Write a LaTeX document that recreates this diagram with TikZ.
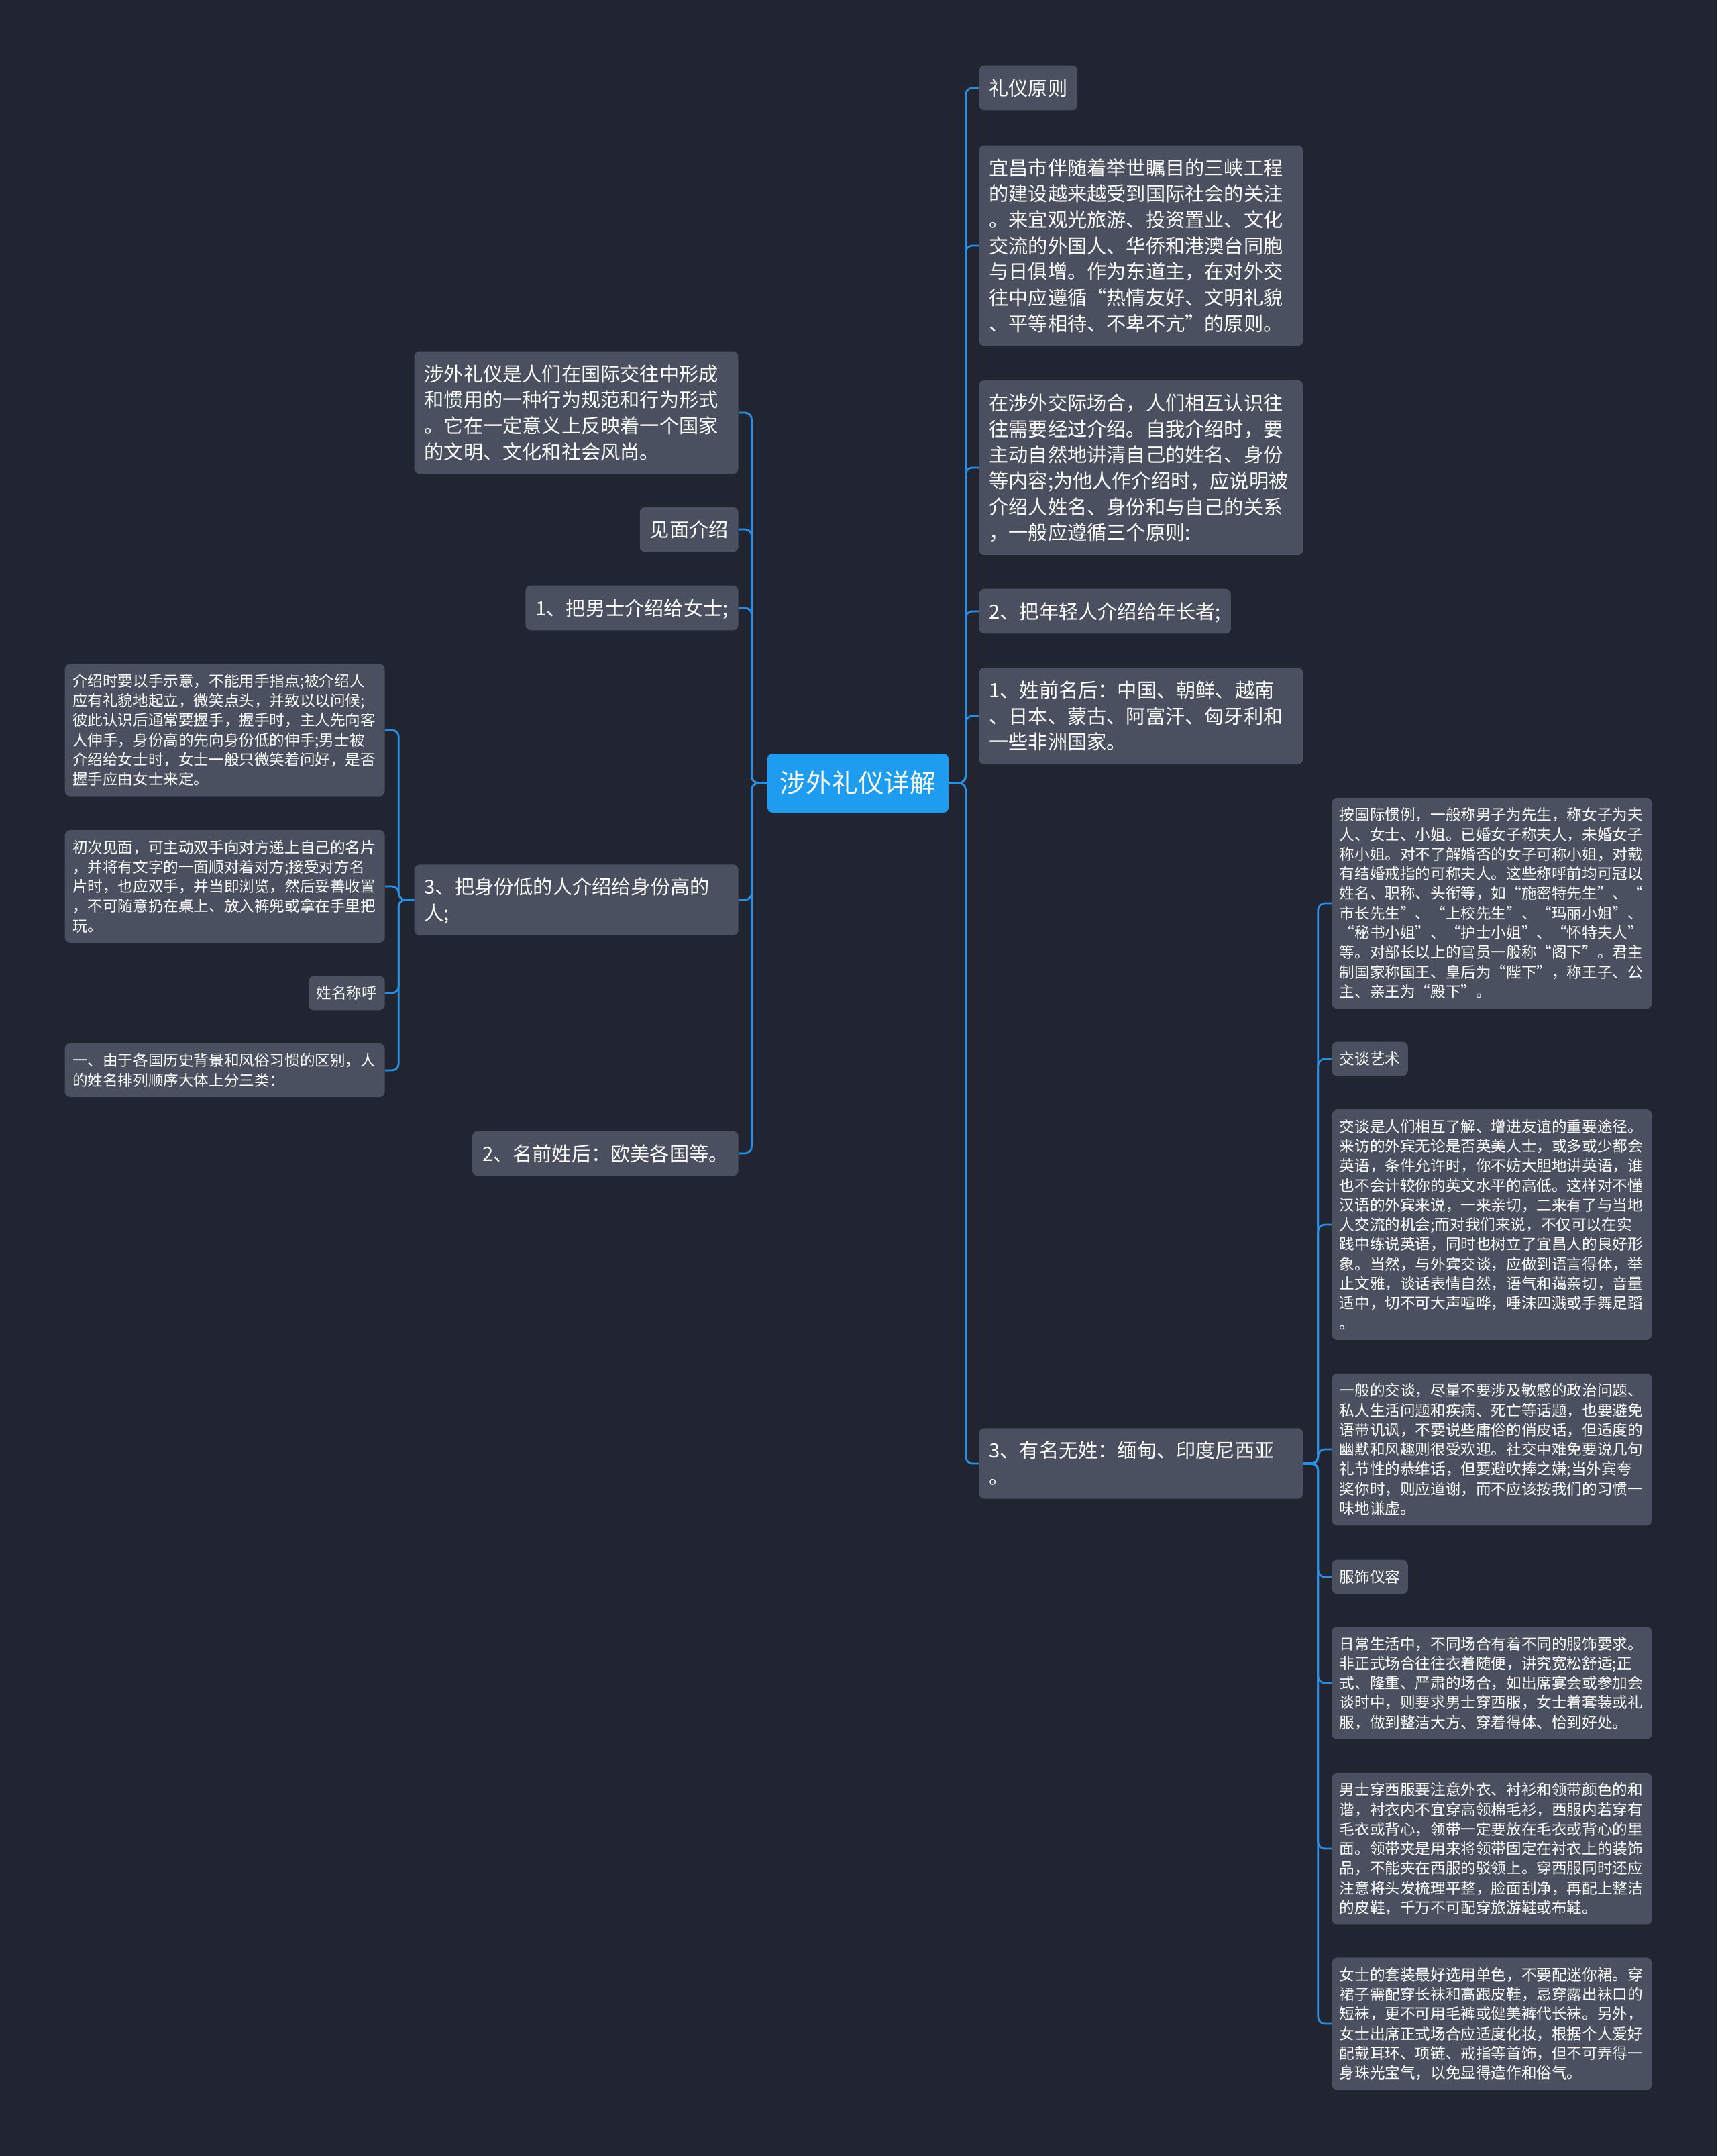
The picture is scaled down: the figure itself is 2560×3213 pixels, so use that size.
\documentclass[tikz,border=0pt]{standalone}
\usepackage{fontspec}
\setmainfont{Noto Sans CJK SC}
\usetikzlibrary{positioning}
\definecolor{mapbg}{HTML}{212531}
\definecolor{mapbox}{HTML}{4A505F}
\definecolor{maproot}{HTML}{1E9CEF}
\definecolor{mapline}{HTML}{2A8FE2}
\newcommand\mmstrut{\leavevmode\vrule width0pt
  height\dimexpr.5\baselineskip+.38em\relax
  depth\dimexpr.5\baselineskip-.38em\relax}
\tikzset{
  mmroot/.style     = {font=\fontsize{19.35pt}{25pt}\selectfont, text=white,
                       fill=maproot, rounded corners=4pt,
                       inner xsep=9.5pt, inner ysep=9.5pt,
                       execute at begin node=\mmstrut},
  mmtopic/.style    = {font=\fontsize{14.6pt}{19.35pt}\selectfont, text=white,
                       fill=mapbox, rounded corners=4pt,
                       inner xsep=7.5pt, inner ysep=7pt,
                       execute at begin node=\mmstrut, execute at end node=\mmstrut},
  mmpara/.style     = {mmtopic, text width=226.5pt, align=left},
  mmnote/.style     = {font=\fontsize{11.3pt}{14.65pt}\selectfont, text=white,
                       fill=mapbox, rounded corners=4pt,
                       inner xsep=5.75pt, inner ysep=5.35pt,
                       execute at begin node=\mmstrut, execute at end node=\mmstrut},
  mmnotepara/.style = {mmnote, text width=227pt, align=left},
  mmlink/.style     = {draw=mapline, line width=1.4pt, rounded corners=5pt},
}

\begin{document}
\begin{tikzpicture}[x=0.5pt, y=-0.5pt]
  \fill[mapbg] (0,0) rectangle (2560,3213);
  \useasboundingbox (0,0) rectangle (2560,3213);

  \node[mmroot] (root) at (1279,1167) {涉外礼仪详解};

  \node[mmpara, anchor=east] (intro) at (1101,615)
       {涉外礼仪是人们在国际交往中形成\\
        和惯用的一种行为规范和行为形式\\
        。它在一定意义上反映着一个国家\\
        的文明、文化和社会风尚。};
  \node[mmtopic, anchor=east] (meet) at (1101,789) {见面介绍};
  \node[mmtopic, anchor=east] (man) at (1101,906) {1、把男士介绍给女士;};
  \node[mmpara, anchor=east] (rank) at (1101,1341)
       {3、把身份低的人介绍给身份高的\\
        人;};
  \node[mmtopic, anchor=east] (eurname) at (1101,1719) {2、名前姓后：欧美各国等。};

  \node[mmnotepara, anchor=east] (hand) at (574,1088)
       {介绍时要以手示意，不能用手指点;被介绍人\\
        应有礼貌地起立，微笑点头，并致以以问候;\\
        彼此认识后通常要握手，握手时，主人先向客\\
        人伸手，身份高的先向身份低的伸手;男士被\\
        介绍给女士时，女士一般只微笑着问好，是否\\
        握手应由女士来定。};
  \node[mmnotepara, anchor=east] (card) at (574,1321)
       {初次见面，可主动双手向对方递上自己的名片\\
        ，并将有文字的一面顺对着对方;接受对方名\\
        片时，也应双手，并当即浏览，然后妥善收置\\
        ，不可随意扔在桌上、放入裤兜或拿在手里把\\
        玩。};
  \node[mmnote, anchor=east] (callname) at (574,1480) {姓名称呼};
  \node[mmnotepara, anchor=east] (order) at (574,1595)
       {一、由于各国历史背景和风俗习惯的区别，人\\
        的姓名排列顺序大体上分三类：};

  \node[mmtopic, anchor=west] (rule) at (1459,131) {礼仪原则};
  \node[mmpara, anchor=west] (yichang) at (1459,366)
       {宜昌市伴随着举世瞩目的三峡工程\\
        的建设越来越受到国际社会的关注\\
        。来宜观光旅游、投资置业、文化\\
        交流的外国人、华侨和港澳台同胞\\
        与日俱增。作为东道主，在对外交\\
        往中应遵循“热情友好、文明礼貌\\
        、平等相待、不卑不亢”的原则。};
  \node[mmpara, anchor=west] (self) at (1459,697)
       {在涉外交际场合，人们相互认识往\\
        往需要经过介绍。自我介绍时，要\\
        主动自然地讲清自己的姓名、身份\\
        等内容;为他人作介绍时，应说明被\\
        介绍人姓名、身份和与自己的关系\\
        ，一般应遵循三个原则:};
  \node[mmtopic, anchor=west] (young) at (1459,911) {2、把年轻人介绍给年长者;};
  \node[mmpara, anchor=west] (asianame) at (1459,1067)
       {1、姓前名后：中国、朝鲜、越南\\
        、日本、蒙古、阿富汗、匈牙利和\\
        一些非洲国家。};
  \node[mmpara, anchor=west] (noname) at (1459,2181)
       {3、有名无姓：缅甸、印度尼西亚\\
        。};

  \node[mmnotepara, anchor=west] (title) at (1985,1346)
       {按国际惯例，一般称男子为先生，称女子为夫\\
        人、女士、小姐。已婚女子称夫人，未婚女子\\
        称小姐。对不了解婚否的女子可称小姐，对戴\\
        有结婚戒指的可称夫人。这些称呼前均可冠以\\
        姓名、职称、头衔等，如“施密特先生”、“\\
        市长先生”、“上校先生”、“玛丽小姐”、\\
        “秘书小姐”、“护士小姐”、“怀特夫人”\\
        等。对部长以上的官员一般称“阁下”。君主\\
        制国家称国王、皇后为“陛下”，称王子、公\\
        主、亲王为“殿下”。};
  \node[mmnote, anchor=west] (talk) at (1985,1578) {交谈艺术};
  \node[mmnotepara, anchor=west] (english) at (1985,1825)
       {交谈是人们相互了解、增进友谊的重要途径。\\
        来访的外宾无论是否英美人士，或多或少都会\\
        英语，条件允许时，你不妨大胆地讲英语，谁\\
        也不会计较你的英文水平的高低。这样对不懂\\
        汉语的外宾来说，一来亲切，二来有了与当地\\
        人交流的机会;而对我们来说，不仅可以在实\\
        践中练说英语，同时也树立了宜昌人的良好形\\
        象。当然，与外宾交谈，应做到语言得体，举\\
        止文雅，谈话表情自然，语气和蔼亲切，音量\\
        适中，切不可大声喧哗，唾沫四溅或手舞足蹈\\
        。};
  \node[mmnotepara, anchor=west] (topic) at (1985,2160)
       {一般的交谈，尽量不要涉及敏感的政治问题、\\
        私人生活问题和疾病、死亡等话题，也要避免\\
        语带讥讽，不要说些庸俗的俏皮话，但适度的\\
        幽默和风趣则很受欢迎。社交中难免要说几句\\
        礼节性的恭维话，但要避吹捧之嫌;当外宾夸\\
        奖你时，则应道谢，而不应该按我们的习惯一\\
        味地谦虚。};
  \node[mmnote, anchor=west] (dress) at (1985,2350) {服饰仪容};
  \node[mmnotepara, anchor=west] (occasion) at (1985,2508)
       {日常生活中，不同场合有着不同的服饰要求。\\
        非正式场合往往衣着随便，讲究宽松舒适;正\\
        式、隆重、严肃的场合，如出席宴会或参加会\\
        谈时中，则要求男士穿西服，女士着套装或礼\\
        服，做到整洁大方、穿着得体、恰到好处。};
  \node[mmnotepara, anchor=west] (suit) at (1985,2755)
       {男士穿西服要注意外衣、衬衫和领带颜色的和\\
        谐，衬衣内不宜穿高领棉毛衫，西服内若穿有\\
        毛衣或背心，领带一定要放在毛衣或背心的里\\
        面。领带夹是用来将领带固定在衬衣上的装饰\\
        品，不能夹在西服的驳领上。穿西服同时还应\\
        注意将头发梳理平整，脸面刮净，再配上整洁\\
        的皮鞋，千万不可配穿旅游鞋或布鞋。};
  \node[mmnotepara, anchor=west] (lady) at (1985,3016)
       {女士的套装最好选用单色，不要配迷你裙。穿\\
        裙子需配穿长袜和高跟皮鞋，忌穿露出袜口的\\
        短袜，更不可用毛裤或健美裤代长袜。另外，\\
        女士出席正式场合应适度化妆，根据个人爱好\\
        配戴耳环、项链、戒指等首饰，但不可弄得一\\
        身珠光宝气，以免显得造作和俗气。};

  \foreach \c in {rule,yichang,self,young,asianame,noname}
    \draw[mmlink] (root.east) -- ++(25,0) |- (\c.west);
  \foreach \c in {intro,meet,man,rank,eurname}
    \draw[mmlink] (root.west) -- ++(-23,0) |- (\c.east);
  \foreach \c in {hand,card,callname,order}
    \draw[mmlink] (rank.west) -- ++(-23,0) |- (\c.east);
  \foreach \c in {title,talk,english,topic,dress,occasion,suit,lady}
    \draw[mmlink] (noname.east) -- ++(22,0) |- (\c.west);
\end{tikzpicture}
\end{document}
